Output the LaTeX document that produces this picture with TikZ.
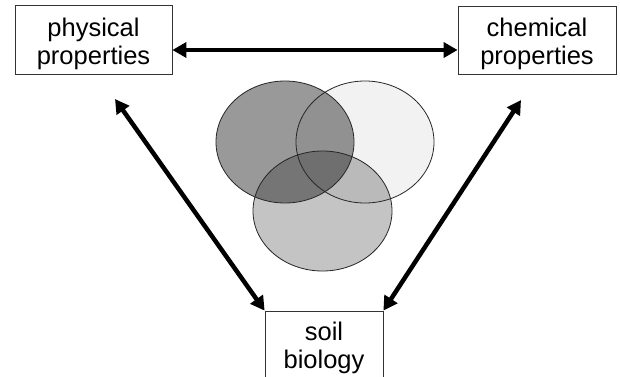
\documentclass[tikz,border=0pt]{standalone}
\usepackage{fontspec}
\setmainfont{Liberation Sans}
\usetikzlibrary{arrows.meta}
\begin{document}
\begin{tikzpicture}[x=1pt,y=-1pt,
  box/.style={draw=black!80, line width=0.8pt, inner sep=0pt},
  txt/.style={align=center, inner sep=0pt, font=\fontsize{25.5}{27.5}\selectfont},
  dbl/.style={line width=4.5pt, {Triangle[length=14pt,width=15pt]}-{Triangle[length=14pt,width=15pt]}},
  venn/.style={draw=black!85, line width=0.8pt}]
\clip (0,0) rectangle (620,376);
\fill[white] (0,0) rectangle (620,376);
% ellipses
\fill[black, fill opacity=0.40] (285,142) ellipse [x radius=69, y radius=61];
\fill[black, fill opacity=0.05] (365,142) ellipse [x radius=69, y radius=61];
\fill[black, fill opacity=0.23] (322.5,211) ellipse [x radius=69.5, y radius=60];
\draw[venn] (285,142) ellipse [x radius=69, y radius=61];
\draw[venn] (365,142) ellipse [x radius=69, y radius=61];
\draw[venn] (322.5,211) ellipse [x radius=69.5, y radius=60];
% boxes
\node[box, minimum width=157pt, minimum height=69pt] (phys) at (93.5,39.5) {};
\node[box, minimum width=158pt, minimum height=68pt] (chem) at (537,40) {};
\node[box, minimum width=118pt, minimum height=84pt] (soil) at (324,353) {};
\node[txt] (physT) at (93.5,44) {physical\\properties};
\node[txt] (chemT) at (537,44) {chemical\\properties};
\node[txt] (soilT) at (324,348) {soil\\biology};
% connectors
\coordinate (pl) at (115,99);
\coordinate (pr) at (521,100);
\draw[dbl] ([yshift=-10.5pt]phys.east) -- ([yshift=-10pt]chem.west);
\draw[dbl] (pl) -- (soil.north west);
\draw[dbl] (pr) -- (soil.north east);
\end{tikzpicture}
\end{document}
